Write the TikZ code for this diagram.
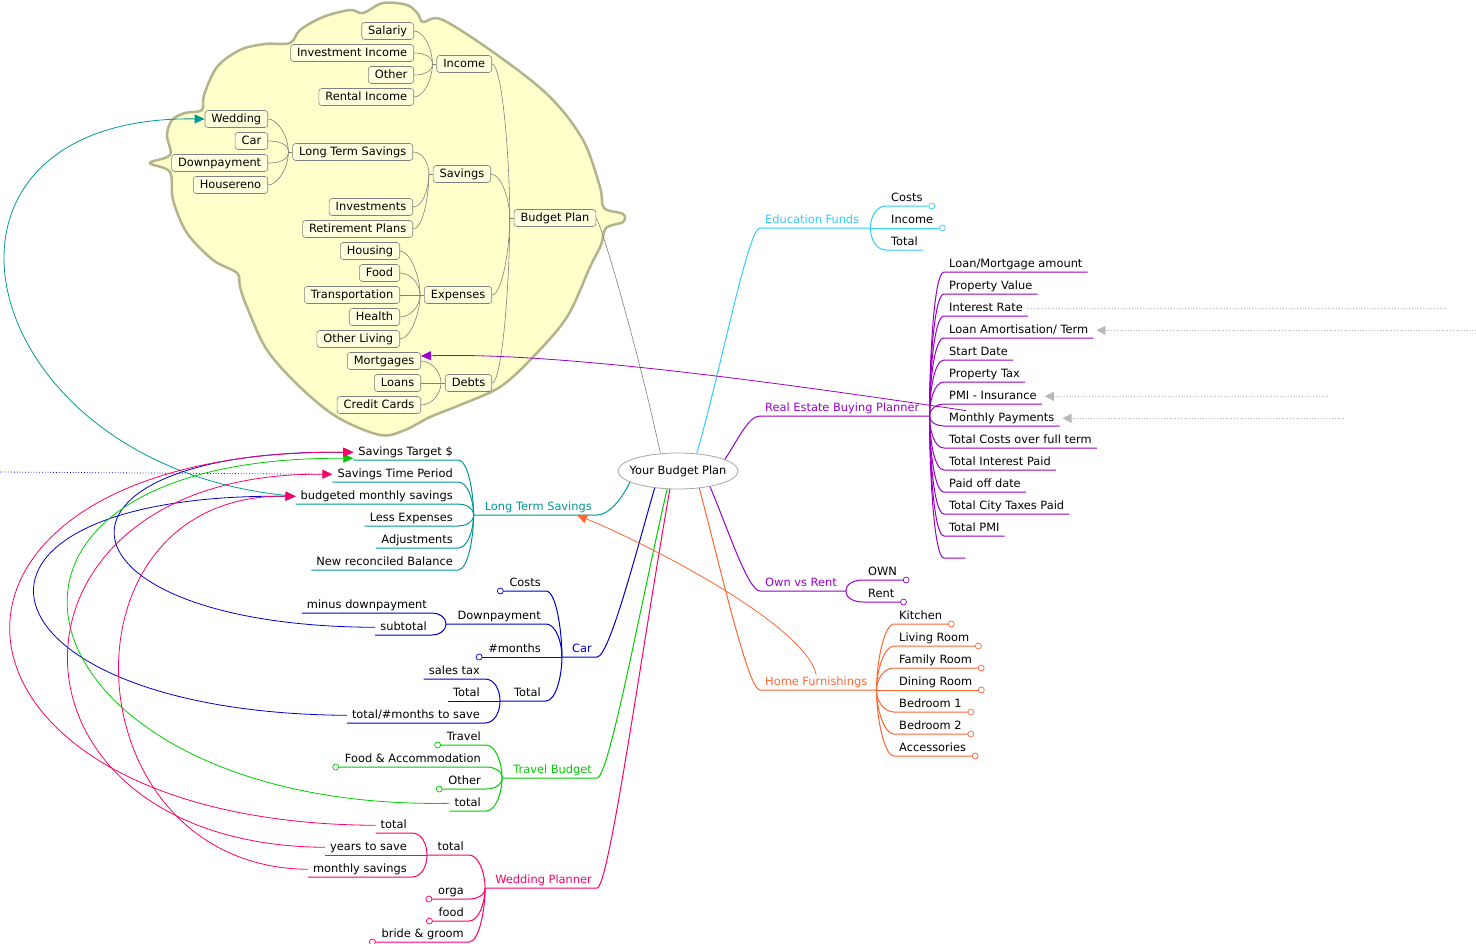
\documentclass[tikz,border=0pt]{standalone}
\usepackage{fontspec}
\setmainfont{DejaVu Sans}
\usetikzlibrary{shapes.geometric, arrows.meta, positioning}

\definecolor{ltsteal}{HTML}{009999}
\definecolor{educyan}{HTML}{33CCFF}
\definecolor{repurple}{HTML}{9900CC}
\definecolor{hforange}{HTML}{FF6633}
\definecolor{carblue}{HTML}{0000CC}
\definecolor{trgreen}{HTML}{00CC00}
\definecolor{wppink}{HTML}{FF0066}
\definecolor{cloudfill}{HTML}{FFFFCC}
\definecolor{cloudline}{HTML}{B4B48C}
\definecolor{boxfill}{HTML}{FFFFDD}
\definecolor{boxline}{HTML}{808080}

\begin{document}
\begin{tikzpicture}[
    x=1pt, y=-1pt,
    font=\fontsize{11.4}{13}\selectfont,
    root/.style={ellipse, draw=gray!70, fill=white, line width=0.8pt, minimum width=120pt, minimum height=36pt, inner sep=0pt},
    topic/.style={draw=boxline, fill=boxfill, rounded corners=3pt, line width=0.6pt, inner xsep=6.5pt, inner ysep=3pt, text height=8.5pt, text depth=2.5pt},
    leaf/.style={inner xsep=5pt, inner ysep=2pt, text height=8.5pt, text depth=2.5pt},
    knob/.style={circle, draw, fill=white, inner sep=0pt, minimum size=6pt, line width=0.7pt},
    tie/.style={draw=boxline, line width=0.6pt},
    ltsline/.style={ltsteal, line width=1pt},
    carline/.style={carblue, line width=1pt},
    trline/.style={trgreen, line width=1pt},
    wpline/.style={wppink, line width=1pt},
    eduline/.style={educyan, line width=1pt},
    reline/.style={repurple, line width=1pt},
    hfline/.style={hforange, line width=1pt},
    fromabove/.style={out=0, in=90, out max distance=10pt},
    frombelow/.style={out=0, in=-90, out max distance=10pt},
    toabove/.style={out=90, in=180, in max distance=10pt},
    tobelow/.style={out=-90, in=180, in max distance=10pt},
    rel/.style={-{Triangle[length=10pt, width=9pt]}, line width=0.8pt},
    extrel/.style={gray!55, dotted, line width=0.8pt}
]
\useasboundingbox (0,0) rectangle (1476,943);
\fill[white] (0,0) rectangle (1476,943);

% Central topic
\node[root] (root) at (678,471) {\makebox[60pt]{Your Budget Plan}};

% Budget Plan cloud
\draw[cloudline, fill=cloudfill, line width=2.5pt] plot[smooth cycle, tension=0.55] coordinates {
    (150,163) (170,155) (167,135) (172,120) (185,113) (202,110) (204,95) (217,67) (240,50) (265,44)
    (290,43) (300,30) (323,17) (350,10) (363,13) (383,3) (407,5) (418,14) (423,22) (443,20)
    (500,57) (550,97) (583,140) (600,187) (604,208) (623,214) (623,222) (606,228) (601,245) (590,267)
    (567,317) (533,357) (500,387) (460,405) (430,417) (405,430) (380,435) (337,417) (300,387) (267,350)
    (247,307) (240,287) (237,273) (213,260) (187,233) (173,200) (170,172)};

\node[topic] (bp) at (555,218) {Budget Plan};
\node[topic, anchor=east] (inc) at (492,64) {Income};
\node[topic, anchor=east] (sav) at (491,174) {Savings};
\node[topic, anchor=east] (exp) at (492,295) {Expenses};
\node[topic, anchor=east] (debt) at (492,383) {Debts};

\node[topic, anchor=east] (sal) at (414,31) {Salariy};
\node[topic, anchor=east] (inv) at (414,53) {Investment Income};
\node[topic, anchor=east] (oth) at (414,75) {Other};
\node[topic, anchor=east] (ren) at (414,97) {Rental Income};

\node[topic, anchor=east] (ltsb) at (413,152) {Long Term Savings};
\node[topic, anchor=east] (invs) at (413,207) {Investments};
\node[topic, anchor=east] (ret) at (413,229) {Retirement Plans};
\node[topic, anchor=east] (wed) at (268,119) {Wedding};
\node[topic, anchor=east] (carb) at (268,141) {Car};
\node[topic, anchor=east] (dwn) at (268,163) {Downpayment};
\node[topic, anchor=east] (hren) at (268,185) {Housereno};

\node[topic, anchor=east] (hou) at (400,251) {Housing};
\node[topic, anchor=east] (food) at (400,273) {Food};
\node[topic, anchor=east] (tra) at (400,295) {Transportation};
\node[topic, anchor=east] (hea) at (400,317) {Health};
\node[topic, anchor=east] (olv) at (400,339) {Other Living};

\node[topic, anchor=east] (mort) at (421,361) {Mortgages};
\node[topic, anchor=east] (loan) at (421,383) {Loans};
\node[topic, anchor=east] (cc) at (421,405) {Credit Cards};

\coordinate (bpj) at ([xshift=-4pt]bp.west);
\coordinate (incj) at ([xshift=-4pt]inc.west);
\coordinate (savj) at ([xshift=-4pt]sav.west);
\coordinate (ltsbj) at ([xshift=-4pt]ltsb.west);
\coordinate (expj) at ([xshift=-4pt]exp.west);
\coordinate (debtj) at ([xshift=-4pt]debt.west);

% Cloud connectors
\draw[tie] (sal.east) to[fromabove] (incj);
\draw[tie] (inv.east) to[fromabove] (incj);
\draw[tie] (oth.east) to[frombelow] (incj);
\draw[tie] (ren.east) to[frombelow] (incj);
\draw[tie] (incj) -- (inc.west);
\draw[tie] (wed.east) to[fromabove] (ltsbj);
\draw[tie] (carb.east) to[fromabove] (ltsbj);
\draw[tie] (dwn.east) to[frombelow] (ltsbj);
\draw[tie] (hren.east) to[frombelow] (ltsbj);
\draw[tie] (ltsbj) -- (ltsb.west);
\draw[tie] (ltsb.east) to[fromabove] (savj);
\draw[tie] (invs.east) to[frombelow] (savj);
\draw[tie] (ret.east) to[frombelow] (savj);
\draw[tie] (savj) -- (sav.west);
\draw[tie] (hou.east) to[fromabove] (expj);
\draw[tie] (food.east) to[fromabove] (expj);
\draw[tie] (tra.east) -- (exp.west);
\draw[tie] (hea.east) to[frombelow] (expj);
\draw[tie] (olv.east) to[frombelow] (expj);
\draw[tie] (mort.east) to[fromabove] (debtj);
\draw[tie] (loan.east) -- (debt.west);
\draw[tie] (cc.east) to[frombelow] (debtj);
\draw[tie] (inc.east) to[fromabove] (bpj);
\draw[tie] (sav.east) to[fromabove] (bpj);
\draw[tie] (exp.east) to[frombelow] (bpj);
\draw[tie] (debt.east) to[frombelow] (bpj);
\draw[tie] (bpj) -- (bp.west);
\draw[tie, gray] (bp.east) to[out=-60, in=102, out max distance=15pt] (root.135);

% Long Term Savings branch
\node[leaf, anchor=south east, text=ltsteal] (lts) at (597,515) {Long Term Savings};
\coordinate (ltsj) at ([xshift=-6pt]lts.south west);
\draw[ltsline] (root.193) to[out=-115, in=0, in max distance=12pt] (lts.south east) -- (ltsj);
\node[leaf, anchor=south east] (stgt) at (458,460) {Savings Target \$};
\node[leaf, anchor=south east] (stp) at (458,482) {Savings Time Period};
\node[leaf, anchor=south east] (bms) at (458,504) {budgeted monthly savings};
\node[leaf, anchor=south east] (lexp) at (458,526) {Less Expenses};
\node[leaf, anchor=south east] (adj) at (458,548) {Adjustments};
\node[leaf, anchor=south east] (nrb) at (458,570) {New reconciled Balance};
\draw[ltsline] (stgt.south west) -- (stgt.south east) to[fromabove] (ltsj);
\draw[ltsline] (stp.south west) -- (stp.south east) to[fromabove] (ltsj);
\draw[ltsline] (bms.south west) -- (bms.south east) to[fromabove] (ltsj);
\draw[ltsline] (lexp.south west) -- (lexp.south east) to[frombelow] (ltsj);
\draw[ltsline] (adj.south west) -- (adj.south east) to[frombelow] (ltsj);
\draw[ltsline] (nrb.south west) -- (nrb.south east) to[frombelow] (ltsj);

% Car branch
\node[leaf, anchor=south east, text=carblue] (car) at (597,657) {Car};
\coordinate (carj) at ([xshift=-5pt]car.south west);
\draw[carline] (root.216) to[out=-106, in=0, in max distance=12pt] (car.south east) -- (carj);
\node[leaf, anchor=south east] (ccost) at (546,591) {Costs};
\node[leaf, anchor=south east] (dp) at (546,624) {Downpayment};
\node[leaf, anchor=south east] (mon) at (546,657) {\#months};
\node[leaf, anchor=south east] (ctot) at (546,701) {Total};
\coordinate (dpj) at (446,624);
\coordinate (ctj) at (500,701);
\node[leaf, anchor=south east] (mdp) at (432,613) {minus downpayment};
\node[leaf, anchor=south east] (sub) at (432,635) {subtotal};
\node[leaf, anchor=south east] (stax) at (485,679) {sales tax};
\node[leaf, anchor=south east] (ttot) at (485,701) {Total};
\node[leaf, anchor=south east] (tms) at (485,723) {total/\#months to save};
\draw[carline] ([xshift=-4pt]ccost.south west) node[knob] (ccostk) {} -- (ccost.south east) to[fromabove] (carj);
\draw[carline] (dpj) -- (dp.south east) to[fromabove] (carj);
\draw[carline] ([xshift=-4pt]mon.south west) node[knob] (monk) {} -- (carj);
\draw[carline] (ctj) -- (ctot.south east) to[frombelow] (carj);
\draw[carline] (mdp.south west) -- (mdp.south east) to[fromabove] (dpj);
\draw[carline] (sub.south west) -- (sub.south east) to[frombelow] (dpj);
\draw[carline] (stax.south west) -- (stax.south east) to[fromabove] (ctj);
\draw[carline] (ttot.south west) -- (ctj);
\draw[carline] (tms.south west) -- (tms.south east) to[frombelow] (ctj);

% Travel Budget branch
\node[leaf, anchor=south east, text=trgreen] (tb) at (597,778) {Travel Budget};
\coordinate (trj) at ([xshift=-6pt]tb.south west);
\draw[trline] (root.239) to[out=-103, in=0, in max distance=12pt] (tb.south east) -- (trj);
\node[leaf, anchor=south east] (trv) at (486,745) {Travel};
\node[leaf, anchor=south east] (fa) at (486,767) {Food \& Accommodation};
\node[leaf, anchor=south east] (toth) at (486,789) {Other};
\node[leaf, anchor=south east] (ttotal) at (486,811) {total};
\draw[trline] ([xshift=-4pt]trv.south west) node[knob] (trvk) {} -- (trv.south east) to[fromabove] (trj);
\draw[trline] ([xshift=-4pt]fa.south west) node[knob] (fak) {} -- (fa.south east) to[fromabove] (trj);
\draw[trline] ([xshift=-4pt]toth.south west) node[knob] (tothk) {} -- (toth.south east) to[frombelow] (trj);
\draw[trline] (ttotal.south west) -- (ttotal.south east) to[frombelow] (trj);

% Wedding Planner branch
\node[leaf, anchor=south east, text=wppink] (wp) at (597,888) {Wedding Planner};
\coordinate (wpj) at ([xshift=-5pt]wp.south west);
\draw[wpline] (root.246) to[out=-100, in=0, in max distance=12pt] (wp.south east) -- (wpj);
\node[leaf, anchor=south east] (wtot) at (469,855) {total};
\coordinate (wtj) at (427,855);
\node[leaf, anchor=south east] (wtt) at (412,833) {total};
\node[leaf, anchor=south east] (yts) at (412,855) {years to save};
\node[leaf, anchor=south east] (ms) at (412,877) {monthly savings};
\node[leaf, anchor=south east] (orga) at (469,899) {orga};
\node[leaf, anchor=south east] (wfood) at (469,921) {food};
\node[leaf, anchor=south east] (bg) at (469,942) {bride \& groom};
\draw[wpline] (wtj) -- (wtot.south east) to[fromabove] (wpj);
\draw[wpline] (wtt.south west) -- (wtt.south east) to[fromabove] (wtj);
\draw[wpline] (yts.south west) -- (wtj);
\draw[wpline] (ms.south west) -- (ms.south east) to[frombelow] (wtj);
\draw[wpline] ([xshift=-4pt]orga.south west) node[knob] (orgak) {} -- (orga.south east) to[frombelow] (wpj);
\draw[wpline] ([xshift=-4pt]wfood.south west) node[knob] (wfoodk) {} -- (wfood.south east) to[frombelow] (wpj);
\draw[wpline] ([xshift=-4pt]bg.south west) node[knob] (bgk) {} -- (bg.south east) to[frombelow] (wpj);

% Education Funds branch
\node[leaf, anchor=south west, text=educyan] (edu) at (760,228) {Education Funds};
\coordinate (eduj) at ([xshift=6pt]edu.south east);
\draw[eduline] (root.43) to[out=74, in=180, in max distance=12pt] (edu.south west) -- (eduj);
\node[leaf, anchor=south west] (ecost) at (886,206) {Costs};
\node[leaf, anchor=south west] (einc) at (886,228) {Income};
\node[leaf, anchor=south west] (etot) at (886,250) {Total};
\draw[eduline] (eduj) to[toabove] (ecost.south west) -- ([xshift=4pt]ecost.south east) node[knob] (ecostk) {};
\draw[eduline] (eduj) -- ([xshift=4pt]einc.south east) node[knob] (einck) {};
\draw[eduline] (eduj) to[tobelow] (etot.south west) -- (etot.south east);

% Real Estate Buying Planner branch
\node[leaf, anchor=south west, text=repurple] (re) at (760,416) {Real Estate Buying Planner};
\coordinate (rej) at ([xshift=5pt]re.south east);
\draw[reline] (root.14) to[out=55, in=180, in max distance=12pt] (re.south west) -- (rej);
\node[leaf, anchor=south west] (lma) at (944,272) {Loan/Mortgage amount};
\node[leaf, anchor=south west] (pv) at (944,294) {Property Value};
\node[leaf, anchor=south west] (ir) at (944,316) {Interest Rate};
\node[leaf, anchor=south west] (la) at (944,338) {Loan Amortisation/ Term};
\node[leaf, anchor=south west] (sd) at (944,360) {Start Date};
\node[leaf, anchor=south west] (pt) at (944,382) {Property Tax};
\node[leaf, anchor=south west] (pmi) at (944,404) {PMI - Insurance};
\node[leaf, anchor=south west] (mp) at (944,426) {Monthly Payments};
\node[leaf, anchor=south west] (tc) at (944,448) {Total Costs over full term};
\node[leaf, anchor=south west] (tip) at (944,470) {Total Interest Paid};
\node[leaf, anchor=south west] (pod) at (944,492) {Paid off date};
\node[leaf, anchor=south west] (tct) at (944,514) {Total City Taxes Paid};
\node[leaf, anchor=south west] (tpmi) at (944,536) {Total PMI};
\node[leaf, anchor=south west, minimum width=21pt] (blank) at (944,558) {};
\draw[reline] (rej) to[toabove] (lma.south west) -- (lma.south east);
\draw[reline] (rej) to[toabove] (pv.south west) -- (pv.south east);
\draw[reline] (rej) to[toabove] (ir.south west) -- (ir.south east);
\draw[reline] (rej) to[toabove] (la.south west) -- (la.south east);
\draw[reline] (rej) to[toabove] (sd.south west) -- (sd.south east);
\draw[reline] (rej) to[toabove] (pt.south west) -- (pt.south east);
\draw[reline] (rej) to[toabove] (pmi.south west) -- (pmi.south east);
\draw[reline] (rej) to[tobelow] (mp.south west) -- (mp.south east);
\draw[reline] (rej) to[tobelow] (tc.south west) -- (tc.south east);
\draw[reline] (rej) to[tobelow] (tip.south west) -- (tip.south east);
\draw[reline] (rej) to[tobelow] (pod.south west) -- (pod.south east);
\draw[reline] (rej) to[tobelow] (tct.south west) -- (tct.south east);
\draw[reline] (rej) to[tobelow] (tpmi.south west) -- (tpmi.south east);
\draw[reline] (rej) to[tobelow] (blank.south west) -- (blank.south east);

% Own vs Rent branch
\node[leaf, anchor=south west, text=repurple] (ovr) at (760,591) {Own vs Rent};
\coordinate (ovrj) at ([xshift=4pt]ovr.south east);
\draw[reline] (root.-26) to[out=-67, in=180, in max distance=12pt] (ovr.south west) -- (ovrj);
\node[leaf, anchor=south west] (own) at (863,580) {OWN};
\node[leaf, anchor=south west] (rent) at (863,602) {Rent};
\draw[reline] (ovrj) to[toabove] (own.south west) -- ([xshift=4pt]own.south east) node[knob] (ownk) {};
\draw[reline] (ovrj) to[tobelow] (rent.south west) -- ([xshift=4pt]rent.south east) node[knob] (rentk) {};

% Home Furnishings branch
\node[leaf, anchor=south west, text=hforange] (hf) at (760,690) {Home Furnishings};
\coordinate (hfj) at ([xshift=4pt]hf.south east);
\draw[hfline] (root.-39) to[out=-75, in=180, in max distance=12pt] (hf.south west) -- (hfj);
\node[leaf, anchor=south west] (kit) at (894,624) {Kitchen};
\node[leaf, anchor=south west] (lr) at (894,646) {Living Room};
\node[leaf, anchor=south west] (fr) at (894,668) {Family Room};
\node[leaf, anchor=south west] (dr) at (894,690) {Dining Room};
\node[leaf, anchor=south west] (bra) at (894,712) {Bedroom 1};
\node[leaf, anchor=south west] (brb) at (894,734) {Bedroom 2};
\node[leaf, anchor=south west] (acc) at (894,756) {Accessories};
\draw[hfline] (hfj) to[toabove] (kit.south west) -- ([xshift=4pt]kit.south east) node[knob] (kitk) {};
\draw[hfline] (hfj) to[toabove] (lr.south west) -- ([xshift=4pt]lr.south east) node[knob] (lrk) {};
\draw[hfline] (hfj) to[toabove] (fr.south west) -- ([xshift=4pt]fr.south east) node[knob] (frk) {};
\draw[hfline] (hfj) -- ([xshift=4pt]dr.south east) node[knob] (drk) {};
\draw[hfline] (hfj) to[tobelow] (bra.south west) -- ([xshift=4pt]bra.south east) node[knob] (brak) {};
\draw[hfline] (hfj) to[tobelow] (brb.south west) -- ([xshift=4pt]brb.south east) node[knob] (brbk) {};
\draw[hfline] (hfj) to[tobelow] (acc.south west) -- ([xshift=4pt]acc.south east) node[knob] (acck) {};

% Relationships
\coordinate (edgel) at (0,472);
\draw[carblue, dotted, line width=0.8pt] (edgel) -- (stp.west);
\draw[rel, ltsteal] (bms.west) .. controls (-30,470) and (-110,115) .. (wed.west);
\draw[rel, carblue] (sub.west) .. controls (45,626) and (21,449) .. (stgt.west);
\draw[rel, carblue] (tms.west) .. controls (-30,713) and (-87,493) .. (bms.west);
\draw[rel, trgreen] (ttotal.west) .. controls (14,811) and (-87,456) .. ([yshift=-6pt]stgt.west);
\draw[rel, wppink] (wtt.west) .. controls (-94,823) and (-119,449) .. (stgt.west);
\draw[rel, wppink] (yts.west) .. controls (-17,845) and (-19,471) .. (stp.west);
\draw[rel, wppink] (ms.west) .. controls (69,867) and (50,493) .. (bms.west);
\draw[rel, repurple] ([xshift=22pt]mp.north west) .. controls (780,383) and (560,352) .. ([yshift=5pt]mort.east);
\draw[rel, hforange] (hf.north) .. controls (805,625) and (650,545) .. ([xshift=-20pt]lts.south east);

% Links leaving the page
\coordinate (irend) at (1447,306);
\coordinate (laend) at (1476,328);
\coordinate (pmiend) at (1328,394);
\coordinate (mpend) at (1344,416);
\draw[extrel] (ir.east) -- (ir.east -| irend);
\draw[extrel, -{Triangle[length=9pt, width=9pt]}] (la.east -| laend) -- ([xshift=3pt]la.east);
\draw[extrel, -{Triangle[length=9pt, width=9pt]}] (pmi.east -| pmiend) -- ([xshift=3pt]pmi.east);
\draw[extrel, -{Triangle[length=9pt, width=9pt]}] (mp.east -| mpend) -- ([xshift=3pt]mp.east);

\end{tikzpicture}
\end{document}
